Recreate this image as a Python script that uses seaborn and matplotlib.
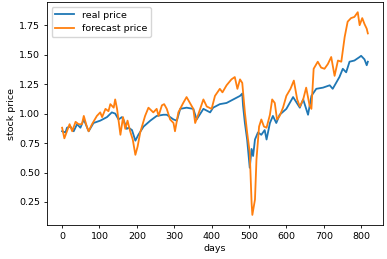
import matplotlib
matplotlib.use("Agg")
import matplotlib.pyplot as plt
import seaborn as sns

# real price: day index and value
real_days = [0, 9, 13, 22, 31, 40, 49, 58, 71, 84,
             102, 120, 133, 142, 151, 160, 164, 173, 178, 187,
             196, 204, 218, 236, 253, 271, 280, 298, 307, 316,
             333, 351, 360, 378, 396, 404, 422, 440, 458, 476,
             482, 484, 489, 495, 502, 507, 511, 516, 524, 533,
             542, 547, 556, 564, 573, 582, 600, 618, 636, 645,
             658, 667, 680, 698, 716, 724, 733, 742, 751, 760,
             769, 782, 796, 800, 809, 815, 818]
real_price = [0.85, 0.84, 0.88, 0.89, 0.85, 0.91, 0.88, 0.95, 0.85, 0.92,
              0.94, 0.97, 1.01, 1.00, 0.95, 0.97, 0.95, 0.87, 0.88, 0.86,
              0.77, 0.82, 0.89, 0.94, 0.98, 0.99, 0.99, 0.95, 0.94, 1.04,
              1.05, 1.04, 0.95, 1.04, 1.01, 1.05, 1.08, 1.09, 1.12, 1.15,
              1.17, 1.07, 0.92, 0.78, 0.54, 0.70, 0.64, 0.78, 0.84, 0.82,
              0.86, 0.78, 0.92, 0.98, 0.92, 0.99, 1.04, 1.14, 1.05, 1.12,
              0.99, 1.15, 1.21, 1.22, 1.24, 1.21, 1.26, 1.31, 1.38, 1.35,
              1.44, 1.45, 1.48, 1.49, 1.46, 1.41, 1.44]

# forecast price
fc_days = [0, 6, 13, 20, 27, 36, 44, 53, 58, 67,
           71, 80, 93, 102, 107, 116, 124, 129, 138, 142,
           147, 156, 163, 169, 175, 182, 189, 196, 202, 209,
           222, 231, 244, 253, 258, 267, 273, 280, 289, 298,
           302, 311, 324, 333, 342, 351, 356, 364, 378, 387,
           400, 409, 422, 429, 440, 453, 462, 469, 476, 482,
           489, 495, 502, 507, 509, 516, 520, 527, 533, 540,
           547, 556, 562, 569, 575, 582, 591, 600, 611, 620,
           629, 636, 645, 653, 662, 667, 673, 684, 693, 702,
           711, 720, 729, 738, 747, 756, 764, 773, 782, 791,
           796, 803, 809, 815, 818]
fc_price = [0.88, 0.79, 0.85, 0.91, 0.85, 0.93, 0.91, 0.91, 0.98, 0.88,
            0.85, 0.91, 0.98, 1.01, 0.97, 1.04, 1.02, 1.08, 1.05, 1.12,
            1.04, 0.82, 0.97, 0.87, 0.94, 0.85, 0.78, 0.65, 0.72, 0.84,
            0.98, 1.05, 1.01, 1.04, 0.98, 1.07, 1.08, 1.04, 0.95, 0.92,
            0.85, 1.01, 1.09, 1.14, 1.09, 1.04, 0.92, 0.99, 1.12, 1.06,
            1.04, 1.15, 1.21, 1.18, 1.24, 1.29, 1.31, 1.21, 1.29, 1.26,
            1.01, 0.84, 0.67, 0.24, 0.14, 0.27, 0.61, 0.89, 0.95, 0.89,
            0.88, 0.99, 1.12, 1.09, 0.95, 0.98, 1.05, 1.15, 1.21, 1.28,
            1.12, 1.06, 1.12, 1.22, 1.07, 1.04, 1.38, 1.44, 1.39, 1.38,
            1.42, 1.48, 1.32, 1.45, 1.44, 1.65, 1.78, 1.81, 1.82, 1.86,
            1.75, 1.81, 1.76, 1.72, 1.68]

plt.rcParams.update({
    "font.size": 6.8,
    "axes.linewidth": 0.6,
    "xtick.major.width": 0.6,
    "ytick.major.width": 0.6,
    "xtick.major.size": 2.3,
    "ytick.major.size": 2.3,
    "xtick.major.pad": 2.5,
    "ytick.major.pad": 2.5,
    "axes.labelpad": 2.5,
})

fig, ax = plt.subplots(figsize=(3.87, 2.59), dpi=100)
fig.subplots_adjust(left=0.121, right=0.99, top=0.992, bottom=0.131)

sns.lineplot(x=real_days, y=real_price, color="#1f77b4", linewidth=1.3,
             label="real price", ax=ax)
sns.lineplot(x=fc_days, y=fc_price, color="#ff7f0e", linewidth=1.3,
             label="forecast price", ax=ax)

ax.set_xlabel("days")
ax.set_ylabel("stock price")
ax.set_xticks([0, 100, 200, 300, 400, 500, 600, 700, 800])
ax.set_yticks([0.25, 0.5, 0.75, 1.0, 1.25, 1.5, 1.75])
ax.legend(loc="upper left")

fig.savefig("out.png", dpi=100)
plt.close(fig)
